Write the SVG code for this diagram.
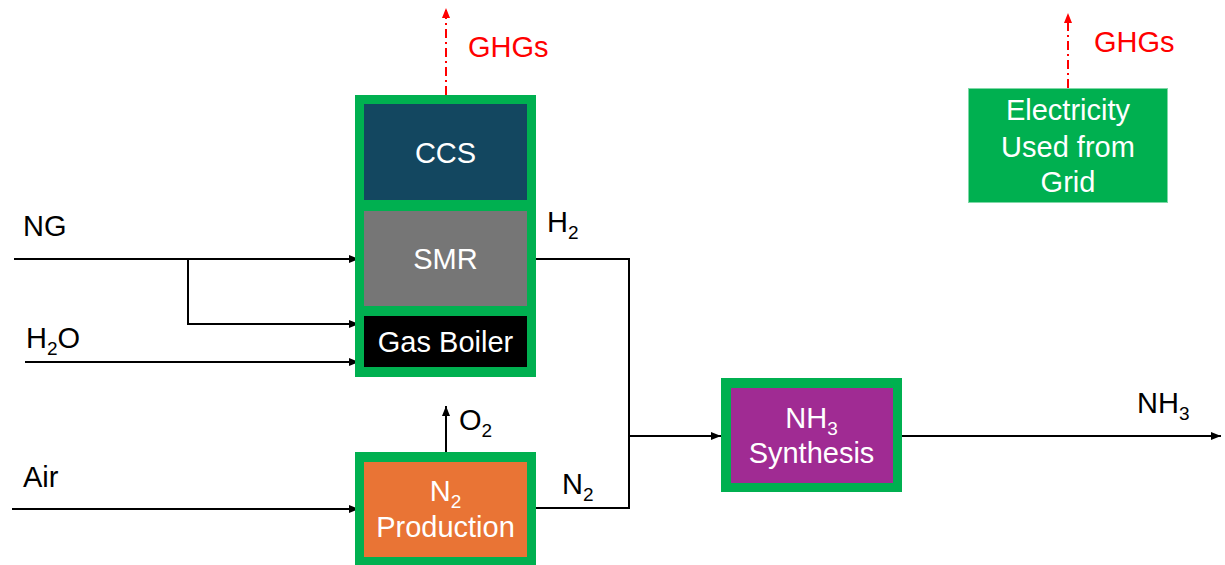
<svg xmlns="http://www.w3.org/2000/svg" width="1225" height="565" viewBox="0 0 1225 565">
<style>
text{font-family:"Liberation Sans",Arial,sans-serif;font-size:29px}
.lbl{fill:#000}
.in{fill:#fff;text-anchor:middle}
.red{fill:#ff0000}
.sub{font-size:19px}
.frame{fill:#00b050}
.ln{fill:none;stroke:#000;stroke-width:2}
.ghg{fill:none;stroke:#ff0000;stroke-width:2;stroke-dasharray:9 4 2 4}
</style>
<defs>
<marker id="ab" viewBox="0 0 10 8" refX="10" refY="4" markerWidth="10" markerHeight="8" markerUnits="userSpaceOnUse" orient="auto"><path d="M0,0 L10,4 L0,8 z" fill="#000"/></marker>
<marker id="ar" viewBox="0 0 10 8" refX="10" refY="4" markerWidth="10" markerHeight="8" markerUnits="userSpaceOnUse" orient="auto"><path d="M0,0 L10,4 L0,8 z" fill="#ff0000"/></marker>
</defs>
<rect width="1225" height="565" fill="#fff"/>
<g id="connectors">
<path class="ln" d="M14,259 H359" marker-end="url(#ab)"/>
<path class="ln" d="M188,259 V324 H359" marker-end="url(#ab)"/>
<path class="ln" d="M25,362 H359" marker-end="url(#ab)"/>
<path class="ln" d="M12,509 H359" marker-end="url(#ab)"/>
<path class="ln" d="M536,259 H629 V436"/>
<path class="ln" d="M536,508 H629 V436"/>
<path class="ln" d="M628,436 H721" marker-end="url(#ab)"/>
<path class="ln" d="M901,436 H1221" marker-end="url(#ab)"/>
<path class="ln" d="M446,452 V406" marker-end="url(#ab)"/>
<path class="ghg" d="M446,95 V8" marker-end="url(#ar)"/>
<path class="ghg" d="M1068,88 V13" marker-end="url(#ar)"/>
</g>
<g id="labels">
<text class="red" x="468" y="57">GHGs</text>
<text class="red" x="1094" y="52">GHGs</text>
<text class="lbl" x="23" y="236">NG</text>
<text class="lbl" x="26" y="348">H<tspan class="sub" dy="7">2</tspan><tspan dy="-7">O</tspan></text>
<text class="lbl" x="23" y="487">Air</text>
<text class="lbl" x="547" y="232">H<tspan class="sub" dy="7">2</tspan></text>
<text class="lbl" x="459" y="430">O<tspan class="sub" dy="7">2</tspan></text>
<text class="lbl" x="562" y="494">N<tspan class="sub" dy="7">2</tspan></text>
<text class="lbl" x="1137" y="413">NH<tspan class="sub" dy="7">3</tspan></text>
</g>
<g id="ccs">
<rect class="frame" x="355" y="95" width="181" height="111"/>
<rect x="364" y="104" width="163" height="96" fill="#134760"/>
<text class="in" x="445.5" y="163">CCS</text>
</g>
<g id="smr">
<rect class="frame" x="355" y="205" width="181" height="107"/>
<rect x="364" y="211" width="163" height="95" fill="#767676"/>
<text class="in" x="445.5" y="269">SMR</text>
</g>
<g id="gas-boiler">
<rect class="frame" x="355" y="311" width="181" height="66"/>
<rect x="364" y="316" width="163" height="51" fill="#000"/>
<text class="in" x="445.5" y="352">Gas Boiler</text>
</g>
<g id="n2-production">
<rect class="frame" x="355" y="452" width="181" height="113"/>
<rect x="364" y="462" width="163" height="95" fill="#e97435"/>
<text class="in" x="445.5" y="501">N<tspan class="sub" dy="7">2</tspan></text>
<text class="in" x="445.5" y="537">Production</text>
</g>
<g id="nh3-synthesis">
<rect class="frame" x="721" y="378" width="181" height="114"/>
<rect x="731" y="388" width="162" height="95" fill="#a02b93"/>
<text class="in" x="811.5" y="428">NH<tspan class="sub" dy="7">3</tspan></text>
<text class="in" x="811.5" y="463">Synthesis</text>
</g>
<g id="electricity">
<rect x="968.5" y="88.5" width="199" height="114" fill="#00b050" stroke="#7fd8a7" stroke-width="1"/>
<text class="in" x="1068" y="120">Electricity</text>
<text class="in" x="1068" y="157">Used from</text>
<text class="in" x="1068" y="192">Grid</text>
</g>
</svg>
